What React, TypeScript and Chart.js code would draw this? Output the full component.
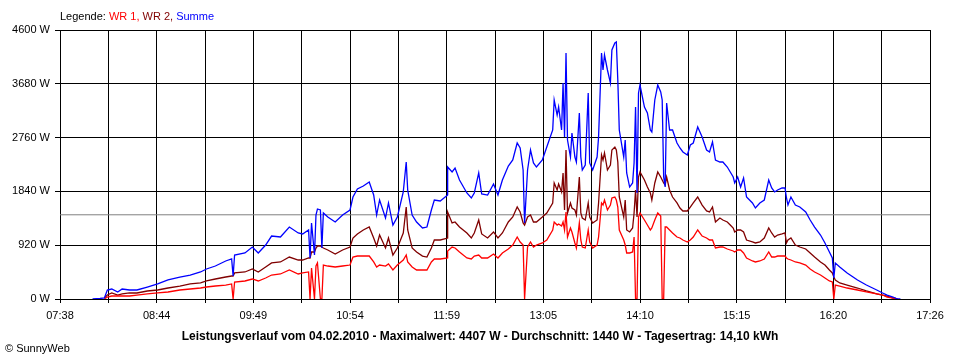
import React, { useEffect, useRef } from 'react';
import { Chart, registerables } from 'chart.js';

Chart.register(...registerables);

// Time of each sample (HH:MM)
const times: string[] = [
  '08:00', '08:05', '08:08', '08:10', '08:13', '08:17', '08:20', '08:25', '08:30', '08:37',
  '08:44', '08:51', '08:59', '09:06', '09:13', '09:17', '09:23', '09:30', '09:34', '09:35',
  '09:36', '09:43', '09:48', '09:52', '09:57', '10:01', '10:07', '10:13', '10:19', '10:22',
  '10:26', '10:27', '10:28', '10:30', '10:31', '10:32', '10:34', '10:35', '10:36', '10:39',
  '10:44', '10:49', '10:54', '10:56', '10:59', '11:03', '11:07', '11:10', '11:12', '11:14',
  '11:18', '11:20', '11:23', '11:26', '11:30', '11:32', '11:33', '11:36', '11:39', '11:43',
  '11:46', '11:49', '11:51', '11:55', '12:00', '12:00', '12:03', '12:05', '12:08', '12:13',
  '12:16', '12:18', '12:21', '12:23', '12:27', '12:31', '12:34', '12:37', '12:41', '12:44',
  '12:47', '12:49', '12:51', '12:52', '12:54', '12:56', '12:58', '13:00', '13:04', '13:07',
  '13:11', '13:12', '13:14', '13:15', '13:17', '13:18', '13:19', '13:20', '13:21', '13:23',
  '13:24', '13:26', '13:27', '13:29', '13:30', '13:31', '13:33', '13:35', '13:36', '13:38',
  '13:41', '13:42', '13:44', '13:45', '13:46', '13:48', '13:50', '13:51', '13:53', '13:54',
  '13:55', '13:56', '13:59', '14:00', '14:01', '14:03', '14:05', '14:06', '14:07', '14:08',
  '14:09', '14:10', '14:13', '14:15', '14:17', '14:18', '14:20', '14:22', '14:24', '14:25',
  '14:26', '14:27', '14:28', '14:30', '14:32', '14:35', '14:37', '14:39', '14:42', '14:44',
  '14:46', '14:49', '14:52', '14:55', '14:57', '14:59', '15:01', '15:04', '15:06', '15:09',
  '15:11', '15:13', '15:14', '15:16', '15:18', '15:20', '15:22', '15:26', '15:28', '15:31',
  '15:34', '15:37', '15:39', '15:41', '15:43', '15:46', '15:48', '15:49', '15:50', '15:52',
  '15:55', '15:58', '16:02', '16:05', '16:08', '16:12', '16:15', '16:18', '16:20', '16:21',
  '16:22', '16:25', '16:30', '16:37', '16:43', '16:50', '16:54', '16:57', '17:01', '17:04',
  '17:06',
];

// Summe (W)
const summe: (number | null)[] = [
  0, 9, 17, 154, 171, 120, 171, 154, 154, 205,
  257, 325, 376, 410, 462, 513, 564, 650, 684, 393,
  752, 787, 889, 787, 923, 1077, 1060, 1231, 1129, 1112,
  1180, 701, 1300, 752, 1436, 1539, 1522, 872, 1471, 1402,
  1317, 1436, 1522, 1744, 1881, 1932, 2001, 1778, 1436, 1693,
  1385, 1642, 1265, 1402, 1830, 2343, 1864, 1436, 1317, 1214,
  1231, 1522, 1693, 1676, 1778, 2257, 2172, 2240, 2035, 1813,
  1727, 1813, 2155, 1796, 1778, 1967, 1778, 2035, 2274, 2377,
  2668, 2582, 2206, 1300, 2206, 2548, 2326, 2257, 2377, 2599,
  2890, 3403, 3146, 3283, 2890, 3694, 2770, 4207, 2719, 2428,
  2839, 2428, 2343, 3181, 2428, 2206, 2291, 3523, 2326, 2206,
  2428, 2770, 4207, 3916, 4172, 3916, 3694, 4258, 4378, 4395,
  3745, 2890, 2428, 2719, 2155, 1915, 1984, 2326, 3283, 1813,
  3523, 3659, 3283, 3181, 2890, 2857, 3403, 3659, 3540, 3403,
  2086, 1915, 3352, 2890, 2890, 2668, 2582, 2514, 2462, 2633,
  2668, 2941, 2770, 2548, 2514, 2685, 2377, 2343, 2343, 2257,
  2172, 2086, 1984, 2086, 1915, 2069, 1744, 1642, 1556, 1642,
  1693, 2035, 1898, 1830, 1864, 1898, 1898, 1727, 1607, 1744,
  1607, 1573, 1488, 1351, 1231, 1094, 958, 804, 701, 359,
  616, 547, 445, 325, 239, 154, 103, 68, 34, 0,
  0,
];

// WR 2 (W)
const wr2: (number | null)[] = [
  null, null, 17, 68, 103, 68, 86, 103, 103, 137,
  154, 188, 222, 257, 274, 308, 342, 376, 393, 393,
  445, 462, 513, 462, 547, 616, 633, 718, 667, 667,
  701, 701, 804, 804, 872, 906, 906, 889, 872, 838,
  770, 838, 889, 1043, 1112, 1180, 1231, 1043, 906, 1094,
  872, 1043, 752, 872, 1129, 1573, 1180, 872, 804, 735,
  718, 872, 1009, 1009, 1043, 1488, 1300, 1317, 1231, 1129,
  1043, 1129, 1351, 1112, 1043, 1146, 1043, 1129, 1317, 1402,
  1573, 1488, 1300, 1265, 1402, 1436, 1317, 1317, 1402, 1471,
  1642, 1984, 1864, 1967, 1830, 2155, 1522, 2548, 1471, 1642,
  1556, 1522, 1436, 2086, 1471, 1385, 1351, 1642, 1402, 1300,
  1351, 1642, 2462, 2377, 2497, 2206, 2291, 2548, 2599, 2548,
  2343, 1744, 1402, 1693, 1180, 1146, 1214, 1471, 1864, 1402,
  2086, 2172, 2035, 1915, 1813, 1693, 1984, 2172, 2086, 2035,
  1984, 1949, 2086, 1864, 1744, 1642, 1556, 1505, 1505, 1573,
  1642, 1744, 1607, 1505, 1488, 1573, 1317, 1385, 1351, 1317,
  1265, 1214, 1146, 1180, 1180, 1146, 1009, 975, 958, 975,
  1043, 1214, 1129, 1060, 1094, 1112, 1129, 958, 1009, 1043,
  923, 889, 855, 787, 718, 633, 581, 496, 445, 376,
  325, 274, 239, 188, 137, 86, 68, 51, 17, 0,
  null,
];

// WR 1 (W)
const wr1: (number | null)[] = [
  null, null, 0, 34, 51, 51, 51, 51, 68, 86,
  103, 120, 154, 171, 188, 205, 222, 239, 257, 0,
  291, 308, 342, 308, 359, 410, 428, 496, 428, 445,
  462, 0, 530, 0, 564, 616, 0, 0, 581, 564,
  547, 564, 581, 718, 735, 735, 735, 633, 547, 581,
  564, 599, 496, 581, 667, 752, 633, 547, 496, 496,
  496, 633, 684, 684, 701, 821, 889, 872, 804, 701,
  684, 735, 752, 701, 701, 770, 701, 787, 855, 923,
  1060, 975, 923, 0, 889, 975, 889, 923, 958, 1009,
  1180, 1317, 1265, 1283, 1248, 1317, 1180, 1488, 1060, 1214,
  1146, 958, 872, 1300, 1009, 889, 872, 1180, 975, 872,
  923, 1060, 1642, 1607, 1693, 1522, 1607, 1727, 1744, 1693,
  1573, 1180, 1009, 923, 787, 787, 804, 1060, 0, 0,
  1402, 1471, 1351, 1265, 1180, 1214, 1351, 1471, 1419, 0,
  0, 1231, 1231, 1180, 1129, 1060, 1043, 1009, 975, 1009,
  1060, 1180, 1077, 1043, 1009, 1009, 872, 889, 889, 855,
  838, 821, 804, 838, 838, 787, 701, 650, 633, 650,
  684, 804, 718, 718, 735, 735, 735, 701, 684, 667,
  633, 616, 581, 513, 462, 410, 359, 308, 291, 0,
  239, 222, 188, 154, 120, 86, 68, 34, 17, 0,
  null,
];

const xTickLabels: string[] = ['07:38', '08:44', '09:49', '10:54', '11:59', '13:05', '14:10', '15:15', '16:20', '17:26'];
const yTickValues: number[] = [0, 920, 1840, 2760, 3680, 4600];
const average = 1440;
const legendParts: [string, string][] = [
  ['Legende: ', '#000000'],
  ['WR 1, ', '#FF0000'],
  ['WR 2, ', '#800000'],
  ['Summe', '#0000FF'],
];
const titleText = 'Leistungsverlauf vom 04.02.2010 - Maximalwert: 4407 W - Durchschnitt: 1440 W - Tagesertrag: 14,10 kWh';
const footerText = '\u00A9 SunnyWeb';

const FONT = '"Liberation Sans", Arial, sans-serif';

const toMin = (t: string) => {
  const [h, m] = t.split(':').map(Number);
  return h * 60 + m;
};

const xMin = toMin(xTickLabels[0]);
const xMax = toMin(xTickLabels[xTickLabels.length - 1]);
const xTickValues = Array.from({ length: (xTickLabels.length - 1) * 2 + 1 }, (_, i) => xMin + (i * (xMax - xMin)) / ((xTickLabels.length - 1) * 2));

const series = (vals: (number | null)[]) => times.map((t, i) => ({ x: toMin(t), y: vals[i] ?? null }));

const textPlugin = {
  id: 'sunnyTexts',
  afterDraw(chart: any) {
    const ctx = chart.ctx as CanvasRenderingContext2D;
    ctx.save();
    ctx.textBaseline = 'middle';
    ctx.font = `11px ${FONT}`;
    let x = 60;
    for (const [txt, col] of legendParts) {
      ctx.fillStyle = col;
      ctx.textAlign = 'left';
      ctx.fillText(txt, x, 17);
      x += ctx.measureText(txt).width;
    }
    ctx.fillStyle = '#000';
    ctx.font = `bold 12px ${FONT}`;
    ctx.textAlign = 'center';
    ctx.fillText(titleText, 480, 337);
    ctx.font = `11px ${FONT}`;
    ctx.textAlign = 'left';
    ctx.fillText(footerText, 5, 349);
    ctx.restore();
  },
};

export default function App() {
  const ref = useRef<HTMLCanvasElement | null>(null);
  useEffect(() => {
    if (!ref.current) return;
    const line = { borderWidth: 1.3, pointRadius: 0, tension: 0, spanGaps: false };
    const chart = new Chart(ref.current, {
      type: 'line',
      data: {
        datasets: [
          { label: 'Summe', data: series(summe), borderColor: '#0000FF', ...line },
          { label: 'WR 1', data: series(wr1), borderColor: '#FF0000', ...line },
          { label: 'WR 2', data: series(wr2), borderColor: '#800000', ...line },
          { label: 'Durchschnitt', data: [{ x: xMin, y: average }, { x: xMax, y: average }], borderColor: '#808080', borderWidth: 1, pointRadius: 0 },
        ],
      } as any,
      options: {
        animation: false,
        responsive: false,
        devicePixelRatio: 1,
        layout: { padding: { left: 0, right: 30, top: 30, bottom: 0 } },
        plugins: { legend: { display: false }, tooltip: { enabled: false }, title: { display: false } },
        scales: {
          x: {
            type: 'linear',
            min: xMin,
            max: xMax,
            afterBuildTicks: (s: any) => { s.ticks = xTickValues.map((v) => ({ value: v })); },
            afterFit: (s: any) => { s.height = 61; },
            grid: { color: '#000', lineWidth: 1, tickLength: 4, drawTicks: true },
            border: { color: '#000' },
            ticks: {
              autoSkip: false,
              maxRotation: 0,
              color: '#000',
              padding: 6,
              font: { family: FONT, size: 11 },
              callback: (_v: any, i: number) => (i % 2 === 0 ? xTickLabels[i / 2] : ''),
            },
          },
          y: {
            min: 0,
            max: 4600,
            afterBuildTicks: (s: any) => { s.ticks = yTickValues.map((v) => ({ value: v })); },
            afterFit: (s: any) => { s.width = 60; },
            grid: { color: '#000', lineWidth: 1, tickLength: 5 },
            border: { color: '#000' },
            ticks: { color: '#000', padding: 5, font: { family: FONT, size: 11 }, callback: (v: any) => `${v} W` },
          },
        },
      } as any,
      plugins: [textPlugin],
    });
    return () => chart.destroy();
  }, []);
  return (
    <div style={{ position: 'absolute', left: 0, top: 0, width: 960, height: 360, background: '#fff' }}>
      <canvas ref={ref} width={960} height={360} style={{ display: 'block' }} />
    </div>
  );
}
